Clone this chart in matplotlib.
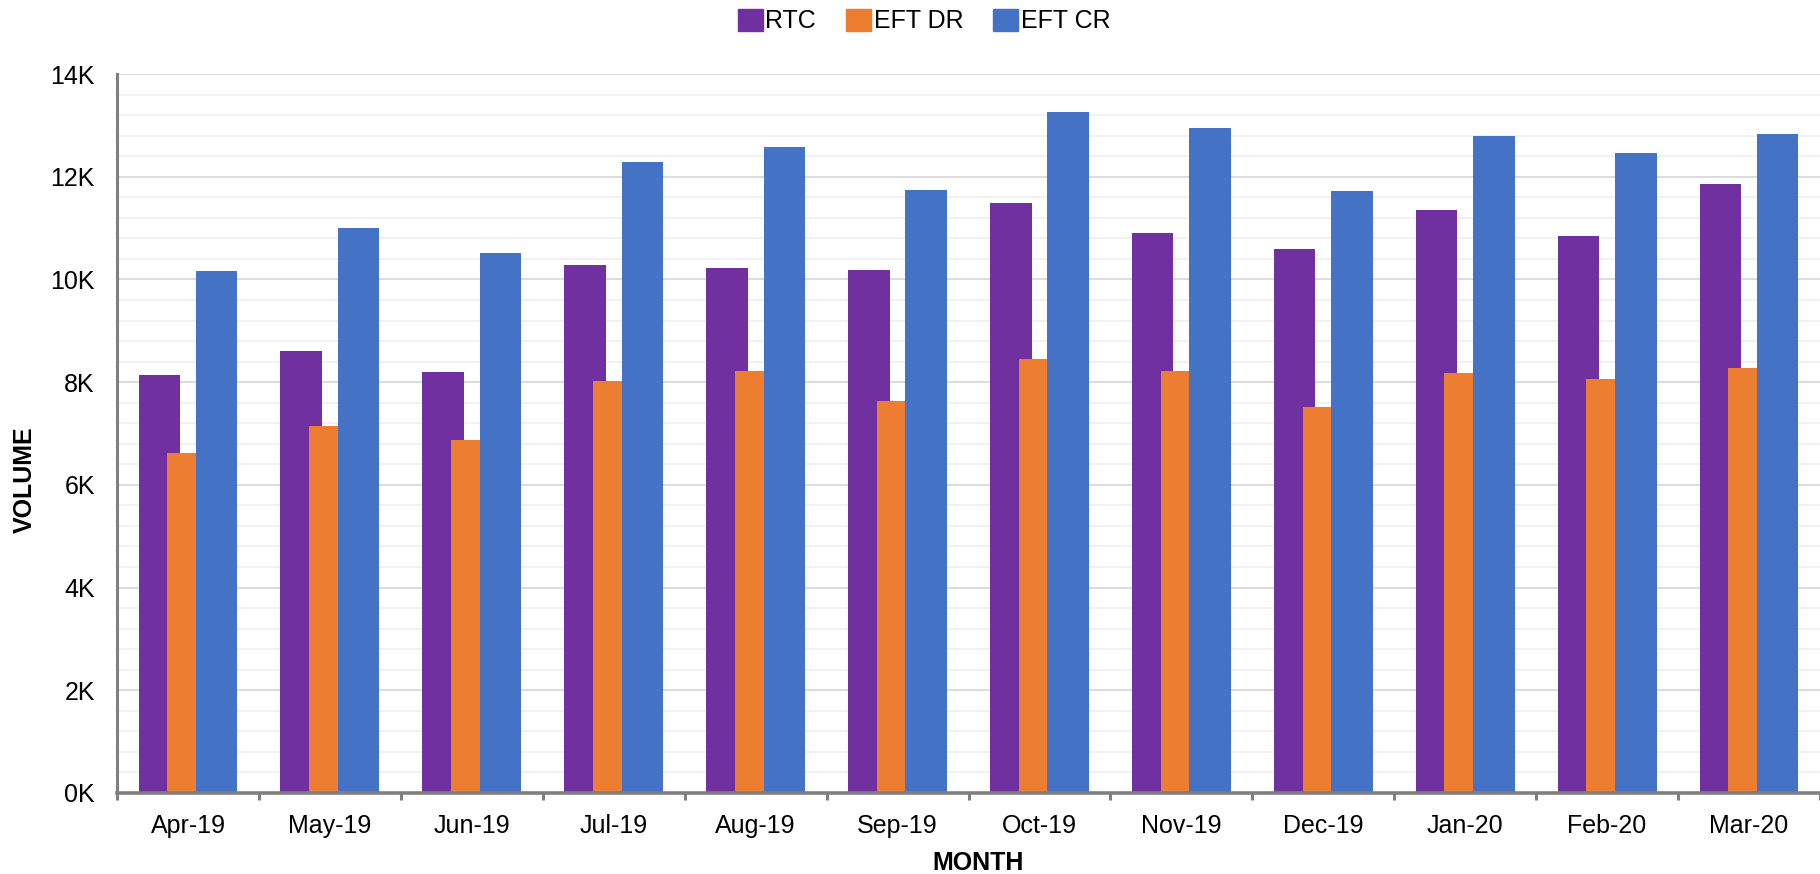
import matplotlib
matplotlib.use("Agg")
from matplotlib import pyplot as plt
from matplotlib.patches import Patch
from matplotlib.ticker import MultipleLocator, FuncFormatter

plt.rcParams['font.family'] = ['Liberation Sans', 'DejaVu Sans']

months = ["Apr-19", "May-19", "Jun-19", "Jul-19", "Aug-19", "Sep-19",
          "Oct-19", "Nov-19", "Dec-19", "Jan-20", "Feb-20", "Mar-20"]
rtc = [8130, 8600, 8190, 10290, 10230, 10180, 11480, 10910, 10590, 11350, 10850, 11850]
eft_dr = [6630, 7150, 6870, 8020, 8220, 7630, 8450, 8220, 7520, 8170, 8060, 8270]
eft_cr = [10170, 11000, 10510, 12290, 12570, 11740, 13260, 12940, 11720, 12790, 12470, 12830]

series = [("RTC", rtc, "#7030a0"), ("EFT DR", eft_dr, "#ed7d31"), ("EFT CR", eft_cr, "#4472c4")]

W, H = 1820, 874
fig = plt.figure(figsize=(W / 100, H / 100), dpi=100)
# axes run a little past the right edge, like the original
ax = fig.add_axes([117 / W, 81 / H, (W - 117) / W, (793 - 74) / H])

bw = 0.293
step = 0.202
for k, (name, vals, col) in enumerate(series):
    xs = [i + (k - 1) * step for i in range(len(months))]
    ax.bar(xs, vals, width=bw, color=col, zorder=2 + k, linewidth=0)

ax.set_ylim(0, 14000)
ax.set_xlim(-0.5, -0.5 + (W - 117) / 143.5)

ax.yaxis.set_major_locator(MultipleLocator(2000))
ax.yaxis.set_minor_locator(MultipleLocator(400))
ax.yaxis.set_major_formatter(FuncFormatter(lambda v, p: "%dK" % round(v / 1000)))
ax.grid(axis="y", which="major", color="#d9d9d9", linewidth=1.3, zorder=0)
ax.grid(axis="y", which="minor", color="#f0f0f0", linewidth=1.3, zorder=0)
ax.set_axisbelow(True)

ax.set_xticks(range(len(months)))
ax.set_xticklabels(months)
ax.set_xticks([i - 0.5 for i in range(len(months) + 1)], minor=True)
ax.tick_params(axis="x", which="major", length=0, pad=15, labelsize=18)
ax.tick_params(axis="x", which="minor", length=5, width=2.2, color="#7f7f7f")
ax.tick_params(axis="y", which="both", length=0, pad=16, labelsize=18)

for s in ["top", "right"]:
    ax.spines[s].set_visible(False)
ax.spines["left"].set_color("#7f7f7f")
ax.spines["left"].set_linewidth(2.2)
ax.spines["bottom"].set_color("#7f7f7f")
ax.spines["bottom"].set_linewidth(2.6)
ax.spines["left"].set_zorder(10)
ax.spines["bottom"].set_zorder(10)

fig.text(25 / W, 1 - 480 / H, "VOLUME", rotation=90, ha="center", va="center",
         fontsize=18, fontweight="bold")
fig.text(978 / W, 1 - 863 / H, "MONTH", ha="center", va="center",
         fontsize=18, fontweight="bold")

handles = [Patch(facecolor=c, edgecolor=c, label=n) for n, v, c in series]
fig.legend(handles=handles, loc="center", bbox_to_anchor=(924 / W, 1 - 21 / H),
           ncol=3, frameon=False, fontsize=18, handlelength=1.0, handleheight=1.0,
           handletextpad=0.1, columnspacing=1.2)

fig.savefig("out.png", dpi=100)
